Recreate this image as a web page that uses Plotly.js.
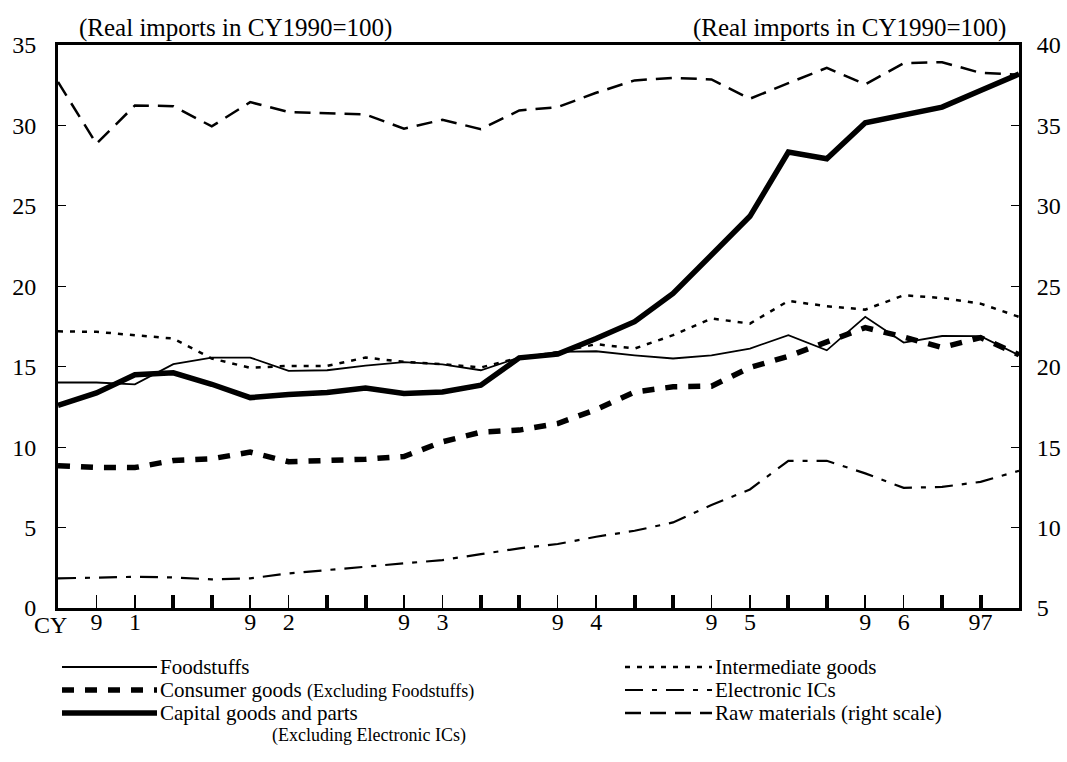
<!DOCTYPE html>
<html>
<head>
<meta charset="utf-8">
<script src="https://cdn.plot.ly/plotly-3.0.1.min.js"></script>
<style>html,body{margin:0;padding:0;background:#fff;}#chart{width:1067px;height:762px;}</style>
</head>
<body>
<div id="chart"></div>
<script>
// Quarters 1991Q1 .. 1997Q2
const quarters = ['91Q1','91Q2','91Q3','91Q4','92Q1','92Q2','92Q3','92Q4','93Q1','93Q2','93Q3','93Q4',
  '94Q1','94Q2','94Q3','94Q4','95Q1','95Q2','95Q3','95Q4','96Q1','96Q2','96Q3','96Q4','97Q1','97Q2'];
const tickLabels = ['','9','1','','','9','2','','','9','3','','','9','4','','','9','5','','','9','6','','97',''];
const majorTicks = [0,3,4,7,8,11,12,15,16,19,20,23,24];

// Left scale series
const foodstuffs   = [14.02,14.02,13.90,15.16,15.57,15.57,14.74,14.78,15.07,15.28,15.14,14.78,15.57,15.92,15.96,15.71,15.51,15.70,16.13,16.96,16.02,18.10,16.50,16.91,16.90,15.71];
const intermediate = [17.20,17.17,16.96,16.75,15.51,14.93,15.05,15.05,15.57,15.30,15.16,14.95,15.57,15.90,16.40,16.13,16.96,18.00,17.68,19.09,18.76,18.55,19.44,19.27,18.92,18.10];
const consumer     = [8.85,8.74,8.73,9.17,9.28,9.69,9.09,9.17,9.25,9.42,10.33,10.93,11.06,11.47,12.34,13.43,13.75,13.79,14.95,15.65,16.54,17.43,16.85,16.19,16.81,15.75];
const electronic   = [1.84,1.88,1.94,1.90,1.78,1.84,2.15,2.36,2.57,2.81,2.98,3.35,3.71,3.98,4.43,4.80,5.32,6.40,7.37,9.15,9.15,8.37,7.47,7.53,7.84,8.53];
const capital      = [12.60,13.37,14.50,14.62,13.91,13.08,13.27,13.40,13.68,13.33,13.43,13.85,15.55,15.78,16.75,17.80,19.55,21.97,24.35,28.34,27.93,30.16,30.68,31.14,32.17,33.20];
// Right scale series
const rawMaterials = [37.70,33.86,36.24,36.20,34.94,36.45,35.83,35.77,35.68,34.80,35.35,34.77,35.93,36.14,37.03,37.80,37.96,37.86,36.66,37.63,38.58,37.55,38.87,38.93,38.27,38.15];

const leftTicks = [0,5,10,15,20,25,30,35];
const rightTicks = [5,10,15,20,25,30,35,40];
const unitTitle = '(Real imports in CY1990=100)';

const FONT = 'Liberation Serif, Times New Roman, serif';
const xs = quarters.map((q, i) => i);

const styles = {
  food:   {color:'#000', width:1.8, dash:'solid'},
  inter:  {color:'#000', width:2.5, dash:'5px,7px'},
  cons:   {color:'#000', width:5.5, dash:'12px,11px'},
  elec:   {color:'#000', width:2.2, dash:'18px,9px,5px,9px'},
  cap:    {color:'#000', width:5.5, dash:'solid'},
  raw:    {color:'#000', width:2.5, dash:'16px,9px'}
};

const traces = [
  {x: xs, y: foodstuffs, name:'Foodstuffs', line: styles.food},
  {x: xs, y: intermediate, name:'Intermediate goods', line: styles.inter},
  {x: xs, y: consumer, name:'Consumer goods', line: styles.cons},
  {x: xs, y: electronic, name:'Electronic ICs', line: styles.elec},
  {x: xs, y: rawMaterials, name:'Raw materials (right scale)', line: styles.raw, yaxis:'y2'},
  {x: xs, y: capital, name:'Capital goods and parts', line: styles.cap, xaxis:'x2'}
].map(t => Object.assign({type:'scatter', mode:'lines', showlegend:false, hoverinfo:'skip'}, t));

// Legend (manual, below the plot)
const W = 1067, H = 762, mL = 58, mR = 48, mT = 45, mB = 154;
const pw = W - mL - mR, ph = H - mT - mB;
const px = X => (X - mL) / pw;
const py = Y => (H - mB - Y) / ph;

const LEG = 21, SMALL = 18, TICK = 24, TITLE = 25;
const legendItems = [
  {text:'Foodstuffs', style: styles.food, col:0, row:0},
  {text:'Consumer goods <span style="font-size:' + SMALL + 'px">(Excluding Foodstuffs)</span>', style: styles.cons, col:0, row:1},
  {text:'Capital goods and parts', style: styles.cap, col:0, row:2},
  {text:'Intermediate goods', style: styles.inter, col:1, row:0},
  {text:'Electronic ICs', style: styles.elec, col:1, row:1},
  {text:'Raw materials (right scale)', style: styles.raw, col:1, row:2}
];
const colX = [[62,157,159],[625,712,714]];
const rowY = [667, 690, 713];

const shapes = [];
const annotations = [];
legendItems.forEach(it => {
  const c = colX[it.col], y = rowY[it.row];
  shapes.push({type:'line', xref:'paper', yref:'paper', x0:px(c[0]), x1:px(c[1]), y0:py(y), y1:py(y),
    line:{color:it.style.color, width:it.style.width, dash:it.style.dash}});
  annotations.push({xref:'paper', yref:'paper', x:px(c[2]), y:py(y), xanchor:'left', yanchor:'middle',
    text:it.text, showarrow:false, borderpad:0, font:{family:FONT, size:LEG, color:'#000'}});
});
annotations.push({xref:'paper', yref:'paper', x:px(271), y:py(735), xanchor:'left', yanchor:'middle',
  text:'(Excluding Electronic ICs)', showarrow:false, borderpad:0, font:{family:FONT, size:SMALL, color:'#000'}});
annotations.push({xref:'paper', yref:'paper', x:px(78), y:1, yshift:2, xanchor:'left', yanchor:'bottom',
  text:unitTitle, showarrow:false, borderpad:0, font:{family:FONT, size:TITLE, color:'#000'}});
annotations.push({xref:'paper', yref:'paper', x:px(1007), y:1, yshift:2, xanchor:'right', yanchor:'bottom',
  text:unitTitle, showarrow:false, borderpad:0, font:{family:FONT, size:TITLE, color:'#000'}});
annotations.push({xref:'paper', yref:'paper', x:0, xshift:-8, y:0, yshift:-17, xanchor:'center', yanchor:'middle',
  text:'CY', showarrow:false, borderpad:0, font:{family:FONT, size:TICK, color:'#000'}});

const axisCommon = {showgrid:false, zeroline:false, showline:true, linecolor:'#000', linewidth:3,
  tickcolor:'#000', ticks:'inside', tickfont:{family:FONT, size:TICK, color:'#000'}, fixedrange:true};

const layout = {
  width: W, height: H,
  margin:{l:mL, r:mR, t:mT, b:mB, pad:0},
  paper_bgcolor:'#fff', plot_bgcolor:'#fff',
  showlegend:false,
  xaxis: Object.assign({}, axisCommon, {range:[0,25], tickmode:'array', tickvals: xs, ticktext: tickLabels,
    ticklen:13, tickwidth:1.5, mirror:true, ticklabelstandoff:-10}),
  xaxis2: Object.assign({}, axisCommon, {range:[0,25], overlaying:'x', anchor:'y', side:'bottom',
    tickmode:'array', tickvals: majorTicks, ticktext: majorTicks.map(() => ''), ticklen:13, tickwidth:4, showline:false}),
  yaxis: Object.assign({}, axisCommon, {range:[0,35], tickmode:'array', tickvals:leftTicks, ticklen:8, tickwidth:1.2,
    ticklabelstandoff:14}),
  yaxis2: Object.assign({}, axisCommon, {range:[5,40], overlaying:'y', side:'right', anchor:'x', tickmode:'array',
    tickvals:rightTicks, ticklen:8, tickwidth:1.2, ticklabelstandoff:10}),
  shapes: shapes,
  annotations: annotations
};

Plotly.newPlot('chart', traces, layout, {staticPlot:true, displayModeBar:false});
</script>
</body>
</html>
